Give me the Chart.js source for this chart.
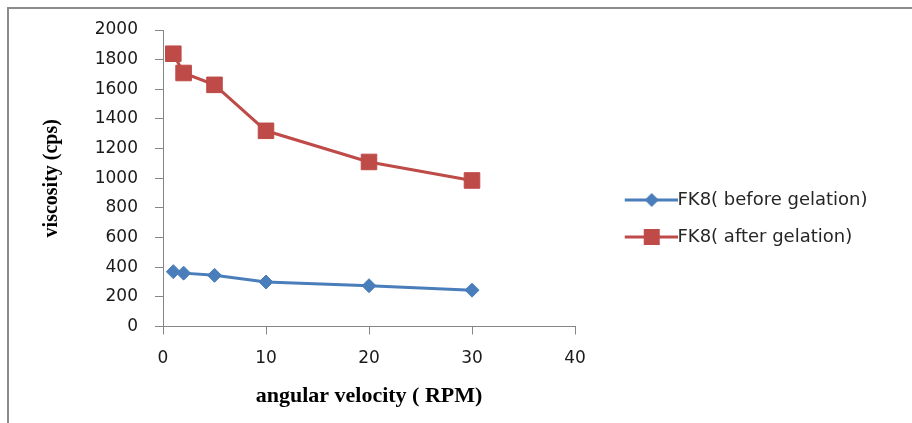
<!DOCTYPE html>
<html>
<head>
<meta charset="utf-8">
<script src="https://cdn.jsdelivr.net/npm/chart.js@4.4.1/dist/chart.umd.min.js"></script>
<style>
  html, body { margin: 0; padding: 0; background: #fff; }
  #wrap { position: relative; width: 912px; height: 423px; }
  #frame { position: absolute; left: 7px; top: 7px; right: 0; bottom: 0; border-top: 2px solid #8c8c8c; border-left: 2px solid #8c8c8c; pointer-events: none; }
</style>
</head>
<body>
<div id="wrap">
  <canvas id="chart-viscosity"></canvas>
  <div id="frame"></div>
</div>
<script>
// ── data ──────────────────────────────────────────────────────────
const rpm = [1, 2, 5, 10, 20, 30];
const beforeGelation = [370, 360, 345, 300, 275, 245];
const afterGelation = [1840, 1710, 1630, 1320, 1110, 985];
const seriesLabels = ['FK8( before gelation)', 'FK8( after gelation)'];
const xTicks = [0, 10, 20, 30, 40];
const yTicks = [0, 200, 400, 600, 800, 1000, 1200, 1400, 1600, 1800, 2000];

const BLUE = '#4a7ebb';
const RED = '#be4b48';
const AXIS = '#868686';
const LEGEND_FONT = { family: '"DejaVu Sans"', size: 18 };
const TICK_FONT = { family: '"DejaVu Sans"', size: 17 };

// legend swatch: line with the marker in the middle (Excel style)
function legendSwatch(color, shape) {
  const c = document.createElement('canvas');
  c.width = 93; c.height = 18;
  const g = c.getContext('2d');
  g.strokeStyle = color; g.lineWidth = 3;
  g.beginPath(); g.moveTo(40, 9); g.lineTo(93, 9); g.stroke();
  g.fillStyle = color;
  g.beginPath();
  if (shape === 'diamond') {
    g.moveTo(67, 2); g.lineTo(74, 9); g.lineTo(67, 16); g.lineTo(60, 9);
  } else {
    g.rect(59, 1, 16, 16);
  }
  g.closePath(); g.fill();
  return c;
}
const swatches = [legendSwatch(BLUE, 'diamond'), legendSwatch(RED, 'square')];

// keep the plot area right edge at x=574 whatever the legend text measures
const mctx = document.createElement('canvas').getContext('2d');
mctx.font = `${LEGEND_FONT.size}px ${LEGEND_FONT.family}`;
const legendTextW = Math.max(...seriesLabels.map(t => mctx.measureText(t).width));
const legendBox = 75 - (LEGEND_FONT.size - 17) / 2;
const legendW = 20 + legendBox + LEGEND_FONT.size / 2 + legendTextW + 10;
const padRight = Math.max(0, 912 - 574 - legendW);

new Chart(document.getElementById('chart-viscosity'), {
  type: 'line',
  data: {
    datasets: [
      {
        label: seriesLabels[0],
        data: rpm.map((x, i) => ({ x, y: beforeGelation[i] })),
        borderColor: BLUE, backgroundColor: BLUE, borderWidth: 3,
        pointStyle: 'rectRot', pointRadius: 7, pointHoverRadius: 7,
        pointBackgroundColor: BLUE, pointBorderColor: BLUE, pointBorderWidth: 1,
        tension: 0, fill: false,
      },
      {
        label: seriesLabels[1],
        data: rpm.map((x, i) => ({ x, y: afterGelation[i] })),
        borderColor: RED, backgroundColor: RED, borderWidth: 3,
        pointStyle: 'rect', pointRadius: 11, pointHoverRadius: 11,
        pointBackgroundColor: RED, pointBorderColor: RED, pointBorderWidth: 1,
        tension: 0, fill: false,
      },
    ],
  },
  options: {
    responsive: true, maintainAspectRatio: false, animation: false,
    layout: { padding: { top: 30, right: padRight, bottom: 16, left: 0 } },
    plugins: {
      tooltip: { enabled: false },
      legend: {
        position: 'right',
        maxWidth: 400,
        labels: {
          usePointStyle: true,
          pointStyleWidth: legendBox,
          padding: 20 - (LEGEND_FONT.size - 17),
          color: '#262626',
          font: LEGEND_FONT,
          generateLabels: chart => Chart.defaults.plugins.legend.labels.generateLabels(chart)
            .map((item, i) => ({ ...item, pointStyle: swatches[i] })),
        },
      },
    },
    scales: {
      x: {
        type: 'linear', min: 0, max: 40,
        afterBuildTicks: s => { s.ticks = xTicks.map(v => ({ value: v })); },
        afterFit: s => { s.height = 80.5; },
        grid: { drawOnChartArea: false, drawTicks: true, tickLength: 8, color: AXIS },
        border: { color: AXIS, width: 1 },
        ticks: { color: '#1a1a1a', padding: 14, font: TICK_FONT, callback: v => String(v) },
        title: {
          display: true, text: 'angular velocity ( RPM)', color: '#000',
          font: { family: '"Liberation Serif"', size: 22, weight: 'bold', lineHeight: 1 },
          padding: { top: 2, bottom: 0 },
        },
      },
      y: {
        type: 'linear', min: 0, max: 2000,
        afterBuildTicks: s => { s.ticks = yTicks.map(v => ({ value: v })); },
        afterFit: s => { s.width = 163; },
        grid: { drawOnChartArea: false, drawTicks: true, tickLength: 8, color: AXIS },
        border: { color: AXIS, width: 1 },
        ticks: { color: '#1a1a1a', padding: 17, font: TICK_FONT, callback: v => String(v) },
        title: {
          display: true, text: 'viscosity (cps)', color: '#000',
          font: { family: '"Liberation Serif"', size: 20, weight: 'bold', lineHeight: 1.2 },
          padding: { top: 40, bottom: 0 },
        },
      },
    },
  },
});
</script>
</body>
</html>
